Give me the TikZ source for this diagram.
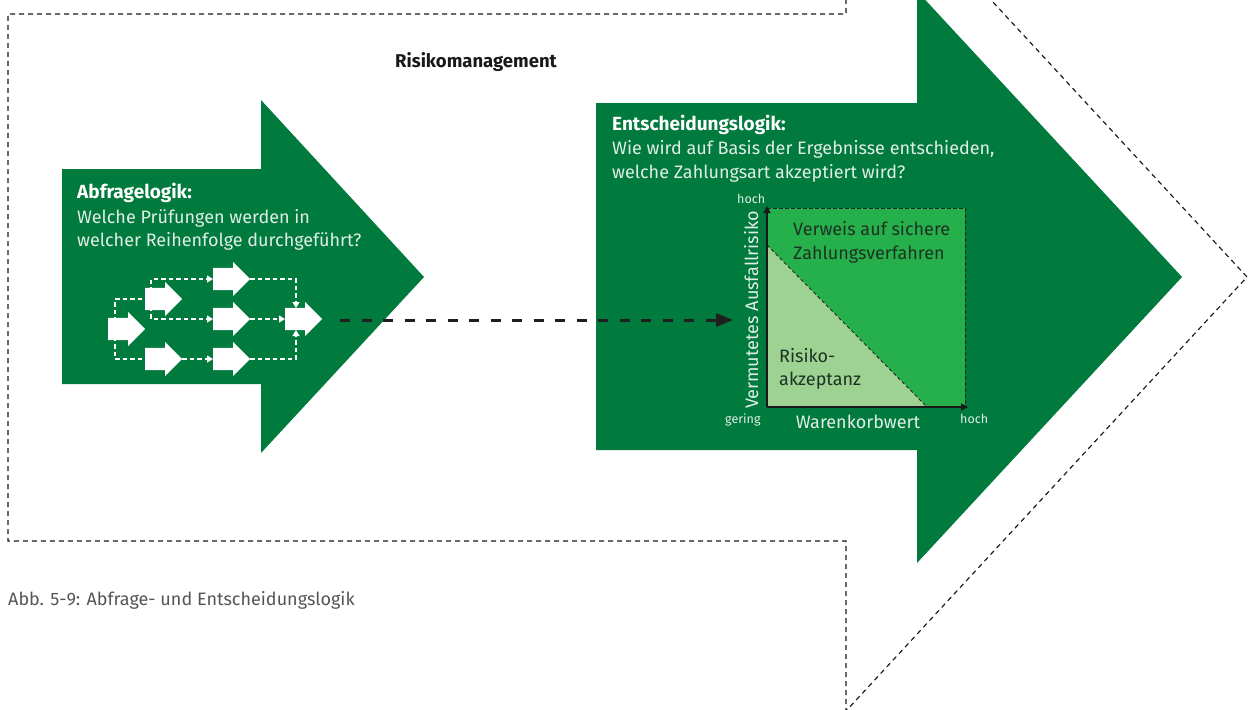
\documentclass[tikz,border=0pt]{standalone}
\usepackage{fontspec}
\setmainfont{Fira Sans}
\usetikzlibrary{arrows.meta,shapes.arrows,calc,backgrounds}
\definecolor{dgreen}{RGB}{0,122,61}
\definecolor{bgreen}{RGB}{37,176,75}
\definecolor{lgreen}{RGB}{158,210,147}
\definecolor{chtext}{RGB}{30,50,35}
\definecolor{capgrey}{RGB}{85,85,85}
\definecolor{wtxt}{RGB}{225,238,229}
\begin{document}
\begin{tikzpicture}[x=1pt,y=-1pt,
  outerdash/.style={draw=black!90, line width=1.15pt, dash pattern=on 5pt off 4pt},
  warrow/.style={shape=single arrow, fill=white, draw=none, inner xsep=0pt, inner ysep=11pt,
    minimum height=37pt, single arrow head extend=6pt,
    single arrow tip angle=90, anchor=tail},
  wdash/.style={draw=white, line width=1.3pt, dash pattern=on 4.5pt off 3pt},
  wtip/.style={-{Triangle[length=6pt,width=7pt]}},
  cdash/.style={draw=black!85, line width=0.9pt, dash pattern=on 3.5pt off 2.5pt},
  wtext/.style={text=wtxt, font=\fontsize{18}{21}\selectfont, anchor=base west, inner sep=0pt},
  wbold/.style={wtext, text=white, font=\fontsize{19}{22}\selectfont\bfseries},
  small/.style={text=wtxt, font=\fontsize{12.5}{14}\selectfont, anchor=base west, inner sep=0pt},
  ctext/.style={text=chtext, font=\fontsize{18}{21}\selectfont, anchor=base west, inner sep=0pt}]
\useasboundingbox (0,0) rectangle (1249,709);
\begin{scope}[on background layer]
% outer dashed arrow
\begin{scope}
\clip (0,0) rectangle (1249,709);
\draw[outerdash] (846,-10) -- (846,14) -- (8,14) -- (8,541) -- (846,541) -- (846,711) -- (1247,277) -- (846,-157);
\end{scope}
% green arrows
\fill[dgreen] (62,169) -- (261,169) -- (261,100) -- (424,277) -- (261,453) -- (261,384) -- (62,384) -- cycle;
\fill[dgreen] (596,103) -- (917,103) -- (917,-9) -- (1182,277) -- (917,563) -- (917,450) -- (596,450) -- cycle;
\end{scope}
% title
\node[anchor=base, inner sep=0pt, font=\fontsize{18.5}{21}\selectfont\bfseries, text=black!90] (title) at (476,67) {Risikomanagement};
% left texts
\node[wbold] (abf) at (77,198) {Abfragelogik:};
\node[wtext] (abf1) at (77,223) {Welche Prüfungen werden in};
\node[wtext] (abf2) at (77,246) {welcher Reihenfolge durchgeführt?};
% small arrows
\node[warrow] (A) at (108,329) {};
\node[warrow] (B) at (145,299) {};
\node[warrow] (C) at (213,279) {};
\node[warrow] (D) at (213,319) {};
\node[warrow] (E) at (145,359) {};
\node[warrow] (F) at (213,359) {};
\node[warrow] (G) at (285,319) {};
% white dashed connectors (behind the arrows)
\begin{scope}[on background layer]
\draw[wdash] ([xshift=7pt]A.tail) |- (B.tail);
\draw[wdash] ([xshift=7pt]A.tail) |- (E.tail);
\draw[wdash,wtip] ([xshift=6pt]B.tail) |- (C.tail);
\draw[wdash,wtip] ([xshift=6pt]B.tail) |- (D.tail);
\draw[wdash,wtip] (E.tip) -- (F.tail);
\draw[wdash,wtip] (C.tip) -| ([xshift=11pt,yshift=11pt]G.tail);
\draw[wdash,wtip] (D.tip) -- (G.tail);
\draw[wdash,wtip] (F.tip) -| ([xshift=11pt,yshift=-11pt]G.tail);
\end{scope}
% right texts
\node[wbold] (ent) at (612,130) {Entscheidungslogik:};
\node[wtext] (ent1) at (612,154) {Wie wird auf Basis der Ergebnisse entschieden,};
\node[wtext] (ent2) at (612,178) {welche Zahlungsart akzeptiert wird?};
% chart
\fill[bgreen] (767,208) rectangle (965,407);
\fill[lgreen] (767,245) -- (767,407) -- (927,407) -- cycle;
\draw[cdash] (767,208) -- (965,208) -- (965,407);
\draw[cdash] (767,245) -- (927,407);
\coordinate (org) at (767,407);
\coordinate (ytop) at (767,206);
\coordinate (xend) at (968,407);
\draw[line width=1.4pt, black!90, -{Triangle[length=7pt,width=7pt]}] (org) -- (ytop);
\draw[line width=1.4pt, black!90, -{Triangle[length=7pt,width=7pt]}] (org) -- (xend);
\node[ctext] (v1) at (793,235) {Verweis auf sichere};
\node[ctext] (v2) at (793,259) {Zahlungsverfahren};
\node[ctext] (r1) at (779,362) {Risiko-};
\node[ctext] (r2) at (779,385) {akzeptanz};
\node[small] (hy) at (737,203) {hoch};
\node[small] (gx) at (725,423) {gering};
\node[small] (hx) at (960,423) {hoch};
\node[wtext, anchor=base] (wk) at (858,428) {Warenkorbwert};
\node[wtext, anchor=base, rotate=90] (va) at (758,310) {Vermutetes Ausfallrisiko};
% main dashed connector
\coordinate (cs) at (340,320);
\coordinate (ce) at (733,320);
\draw[line width=3pt, black!88, dash pattern=on 10pt off 11.5pt, -{Triangle[length=17pt,width=13pt]}] (cs) -- (ce);
% caption
\node[anchor=base west, inner sep=0pt, text=capgrey, font=\fontsize{18}{21}\selectfont] (cap) at (8,605) {Abb. 5-9: Abfrage- und Entscheidungslogik};
\end{tikzpicture}
\end{document}
